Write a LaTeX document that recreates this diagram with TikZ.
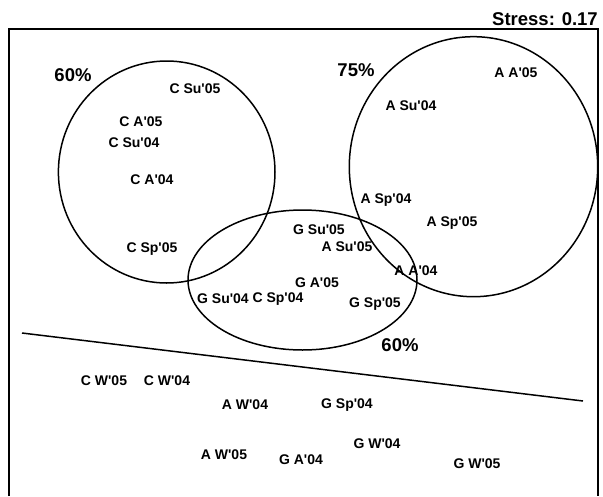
\documentclass[tikz,border=0pt]{standalone}
\usepackage{fontspec}
\setmainfont{Liberation Sans}[Ligatures=TeXOff]
\tikzset{
  lbl/.style={font=\fontsize{14}{16}\selectfont\bfseries, inner sep=0pt, text height=10pt, text depth=0pt},
  pct/.style={font=\fontsize{18.5}{20}\selectfont\bfseries, inner sep=0pt, text height=13pt, text depth=0pt},
  ring/.style={line width=1.5pt}
}
\begin{document}
\begin{tikzpicture}[x=1pt, y=-1pt]
              \useasboundingbox (0,0) rectangle (603,496);
              \draw [line width=2pt] (9,496) -- (9,29) -- (598,29) -- (598,496);
              \node[pct, anchor=east] (stress) at (598,19) {Stress: 0.17};

              \draw[ring] (166.7,172) ellipse (108.3 and 111);
              \draw[ring] (473.5,166.7) ellipse (124.2 and 130);
              \draw[ring] (302.5,280) ellipse (114.5 and 70);
              \draw[line width=1.5pt] (22,333) -- (583,401);

              \node[pct] (pcC) at (73,75) {60\%};
              \node[pct] (pcA) at (356,70) {75\%};
              \node[pct] (pcG) at (400,345) {60\%};

              \node[lbl] (cSu05) at (195,88) {C Su'05};
              \node[lbl] (cA05) at (141,121) {C A'05};
              \node[lbl] (cSu04) at (134,142) {C Su'04};
              \node[lbl] (cA04) at (152,179) {C A'04};
              \node[lbl] (cSp05) at (152,247) {C Sp'05};
              \node[lbl] (cSp04) at (278,297) {C Sp'04};
              \node[lbl] (cW05) at (104,380) {C W'05};
              \node[lbl] (cW04) at (167,380) {C W'04};

              \node[lbl] (aA05) at (516,72) {A A'05};
              \node[lbl] (aSu04) at (411,105) {A Su'04};
              \node[lbl] (aSp04) at (386,198) {A Sp'04};
              \node[lbl] (aSp05) at (452,221) {A Sp'05};
              \node[lbl] (aSu05) at (347,246) {A Su'05};
              \node[lbl] (aA04) at (416,270) {A A'04};
              \node[lbl] (aW04) at (245,404) {A W'04};
              \node[lbl] (aW05) at (224,454) {A W'05};

              \node[lbl] (gSu05) at (319,229) {G Su'05};
              \node[lbl] (gA05) at (317,282) {G A'05};
              \node[lbl] (gSu04) at (223,298) {G Su'04};
              \node[lbl] (gSp05) at (375,302) {G Sp'05};
              \node[lbl] (gSp04) at (347,403) {G Sp'04};
              \node[lbl] (gW04) at (377,443) {G W'04};
              \node[lbl] (gA04) at (301,459) {G A'04};
              \node[lbl] (gW05) at (477,463) {G W'05};

          \end{tikzpicture}
\end{document}
